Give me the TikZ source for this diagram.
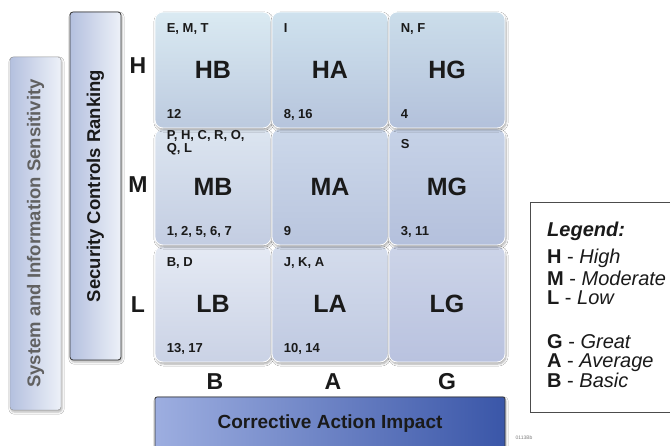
\documentclass[tikz,border=0pt]{standalone}
\usepackage{fontspec}
\setmainfont{Liberation Sans}
\usepackage{tikz}
\usetikzlibrary{positioning,shadows.blur}

\definecolor{hbTop}{HTML}{DAEAF2}\definecolor{hbBot}{HTML}{BCCADF}
\definecolor{haTop}{HTML}{CFE2EE}\definecolor{haBot}{HTML}{B6C4DC}
\definecolor{hgTop}{HTML}{CBDDEA}\definecolor{hgBot}{HTML}{B3C1DB}
\definecolor{mbTop}{HTML}{DCE5F0}\definecolor{mbBot}{HTML}{C3CDE2}
\definecolor{maTop}{HTML}{CCD8EA}\definecolor{maBot}{HTML}{B9C5DE}
\definecolor{mgTop}{HTML}{C6D2E7}\definecolor{mgBot}{HTML}{B4C0DC}
\definecolor{lbTop}{HTML}{E5EAF4}\definecolor{lbBot}{HTML}{CAD2E5}
\definecolor{laTop}{HTML}{D4DCEC}\definecolor{laBot}{HTML}{BFC9E1}
\definecolor{lgTop}{HTML}{CCD4E8}\definecolor{lgBot}{HTML}{B9C2DF}
\definecolor{barTop}{HTML}{EDF1F8}\definecolor{barBot}{HTML}{B4C0DF}
\definecolor{impLeft}{HTML}{9DAEE0}\definecolor{impRight}{HTML}{3A56A8}
\definecolor{ink}{HTML}{1A1A1A}

\begin{document}
\begin{tikzpicture}[x=1pt, y=-1pt,
cell/.style={rectangle, rounded corners=8pt, draw=white, line width=0.8pt, minimum width=116pt, minimum height=116pt, inner sep=0pt, blur shadow={shadow xshift=1pt, shadow yshift=-2pt, shadow opacity=35, shadow blur steps=6}},
big/.style={text=ink, font=\fontsize{25}{25}\selectfont\bfseries},
tag/.style={text=ink, inner sep=0pt, anchor=base west, font=\fontsize{13}{13}\selectfont\bfseries},
axis/.style={text=ink, font=\fontsize{23}{23}\selectfont\bfseries},
sidebar/.style={rectangle, rounded corners=3pt, rotate=90, minimum width=#1, minimum height=51pt, inner sep=0pt, left color=barBot, right color=barTop, font=\fontsize{18.5}{18.5}\selectfont\bfseries, blur shadow={shadow xshift=1pt, shadow yshift=-2pt, shadow opacity=30}},
legitem/.style={text=ink, inner sep=0pt, anchor=base west, font=\fontsize{20}{20}\selectfont},
]
\fill[white] (0,0) rectangle (670,446);
\useasboundingbox (0,0) rectangle (670,446);

\node[sidebar=353pt, draw=black!45, text=black!62] (sens) at (35.5,233.5) {System and Information Sensitivity};
\node[sidebar=348pt, draw=black!80, line width=0.8pt, text=ink] (rank) at (95.5,186) {Security Controls Ranking};

\node[cell, top color=lbTop, bottom color=lbBot] (LB) at (213,304) {};
\node[cell, top color=laTop, bottom color=laBot] (LA) at (330,304) {};
\node[cell, top color=lgTop, bottom color=lgBot] (LG) at (447,304) {};
\node[cell, top color=mbTop, bottom color=mbBot] (MB) at (213,187) {};
\node[cell, top color=maTop, bottom color=maBot] (MA) at (330,187) {};
\node[cell, top color=mgTop, bottom color=mgBot] (MG) at (447,187) {};
\node[cell, top color=hbTop, bottom color=hbBot] (HB) at (213,70) {};
\node[cell, top color=haTop, bottom color=haBot] (HA) at (330,70) {};
\node[cell, top color=hgTop, bottom color=hgBot] (HG) at (447,70) {};

\node[big] (HBname) at (HB) {HB};
\node[big] (HAname) at (HA) {HA};
\node[big] (HGname) at (HG) {HG};
\node[big] (MBname) at (MB) {MB};
\node[big] (MAname) at (MA) {MA};
\node[big] (MGname) at (MG) {MG};
\node[big] (LBname) at (LB) {LB};
\node[big] (LAname) at (LA) {LA};
\node[big] (LGname) at (LG) {LG};

\node[tag] (HBtop) at ([xshift=12pt, yshift=-21pt]HB.north west) {E, M, T};
\node[tag] (HAtop) at ([xshift=12pt, yshift=-21pt]HA.north west) {I};
\node[tag] (HGtop) at ([xshift=12pt, yshift=-21pt]HG.north west) {N, F};
\node[tag] (MBtop) at ([xshift=12pt, yshift=-11pt]MB.north west) {P, H, C, R, O,};
\node[tag] (MBtopb) at ([xshift=12pt, yshift=-24pt]MB.north west) {Q, L};
\node[tag] (MGtop) at ([xshift=12pt, yshift=-20pt]MG.north west) {S};
\node[tag] (LBtop) at ([xshift=12pt, yshift=-21pt]LB.north west) {B, D};
\node[tag] (LAtop) at ([xshift=12pt, yshift=-21pt]LA.north west) {J, K, A};

\node[tag] (HBbot) at ([xshift=12pt, yshift=10pt]HB.south west) {12};
\node[tag] (HAbot) at ([xshift=12pt, yshift=10pt]HA.south west) {8, 16};
\node[tag] (HGbot) at ([xshift=12pt, yshift=10pt]HG.south west) {4};
\node[tag] (MBbot) at ([xshift=12pt, yshift=10pt]MB.south west) {1, 2, 5, 6, 7};
\node[tag] (MAbot) at ([xshift=12pt, yshift=10pt]MA.south west) {9};
\node[tag] (MGbot) at ([xshift=12pt, yshift=10pt]MG.south west) {3, 11};
\node[tag] (LBbot) at ([xshift=12pt, yshift=10pt]LB.south west) {13, 17};
\node[tag] (LAbot) at ([xshift=12pt, yshift=10pt]LA.south west) {10, 14};

\node[axis] (rowH) at (138,66) {H};
\node[axis] (rowM) at (138,185) {M};
\node[axis] (rowL) at (138,305) {L};
\node[axis] (colB) at (215,382) {B};
\node[axis] (colA) at (333,382) {A};
\node[axis] (colG) at (447,382) {G};

\node[rectangle, rounded corners=2pt, draw=black!80, line width=0.8pt, minimum width=350pt, minimum height=54pt, left color=impLeft, right color=impRight, text=ink, font=\fontsize{19}{19}\selectfont\bfseries, blur shadow={shadow xshift=1pt, shadow yshift=-2pt, shadow opacity=30}] (impact) at (330,424) {Corrective Action Impact};

\node[rectangle, draw=black!70, line width=0.9pt, fill=white, minimum width=170pt, minimum height=210pt] (legend) at (615,307) {};
\node[legitem, font=\fontsize{20}{20}\selectfont\bfseries\itshape] (legtitle) at (547,237) {Legend:};
\node[legitem] (legH) at (547,264) {\textbf{H} - \textit{High}};
\node[legitem] (legM) at (547,286) {\textbf{M} - \textit{Moderate}};
\node[legitem] (legL) at (547,305) {\textbf{L} - \textit{Low}};
\node[legitem] (legG) at (547,349) {\textbf{G} - \textit{Great}};
\node[legitem] (legA) at (547,368) {\textbf{A} - \textit{Average}};
\node[legitem] (legB) at (547,388) {\textbf{B} - \textit{Basic}};

\node[text=black!50, inner sep=0pt, font=\fontsize{5}{5}\selectfont] (code) at (524,438) {0113Bb};
\end{tikzpicture}
\end{document}
